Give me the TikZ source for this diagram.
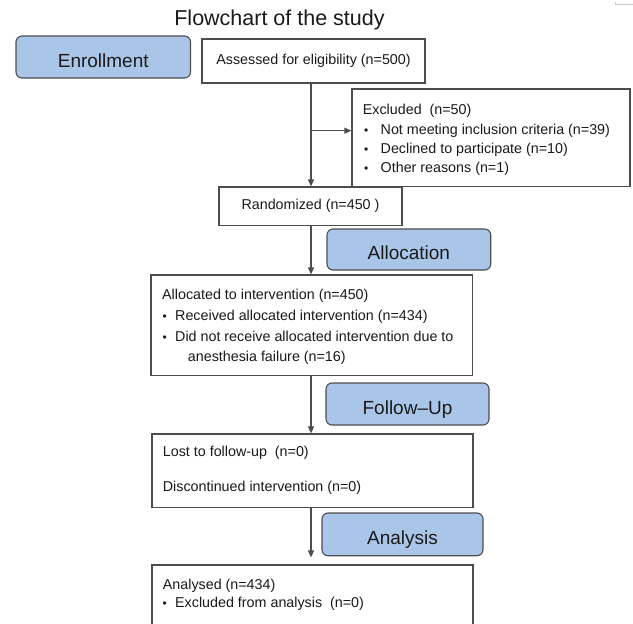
\documentclass[tikz,border=0pt]{standalone}
\usepackage{fontspec}
\setmainfont{Liberation Sans}
\usetikzlibrary{arrows.meta}
\definecolor{phasefill}{HTML}{A9C6E9}
\definecolor{edgegray}{HTML}{4D4D4D}
\definecolor{txt}{HTML}{1A1A1A}
\tikzset{
  phase/.style={draw=edgegray, line width=1.1pt, fill=phasefill, rounded corners=6pt, inner sep=0pt,
    text=txt, font=\fontsize{19}{22}\selectfont, text height=20.5pt, text depth=0pt},
  whitebox/.style={draw=edgegray, line width=1.2pt, fill=white, inner sep=0pt, text=txt,
    font=\fontsize{14.3}{17}\selectfont},
  line/.style={anchor=base west, inner sep=0pt, text=txt, font=\fontsize{14.3}{17}\selectfont},
  flow/.style={draw=edgegray, line width=1.2pt, -{Triangle[length=7pt,width=6pt]}},
}
\newcommand{\bul}[1]{\makebox[#1][l]{\fontsize{12}{12}\selectfont •}}
\begin{document}
\begin{tikzpicture}[x=1pt,y=-1pt]
\clip (0,0) rectangle (633,624);
\fill[white] (0,0) rectangle (633,624);
% faint mark top right
\draw[black!20, line width=0.8pt] (615,2) -- (615,4.3) -- (633,4.3);

\node[anchor=base, inner sep=0pt, text=txt, font=\fontsize{21.5}{25}\selectfont] (title) at (279.5,25.5) {Flowchart of the study};

\node[phase, minimum width=174.5pt, minimum height=42pt] (enroll) at (103.25,57) {Enrollment};
\node[whitebox, minimum width=223pt, minimum height=44pt] (assess) at (313.5,61) {Assessed for eligibility (n=500)};

\node[whitebox, minimum width=278pt, minimum height=97.5pt] (excl) at (491,137.75) {};
\node[line] (ex0) at (362.7,114.5) {Excluded\ \ (n=50)};
\node[line] (ex1) at (364,134.5) {\bul{16.5pt}Not meeting inclusion criteria (n=39)};
\node[line] (ex2) at (364,153.5) {\bul{16.5pt}Declined to participate (n=10)};
\node[line] (ex3) at (364,172.5) {\bul{16.5pt}Other reasons (n=1)};

\node[whitebox, minimum width=183pt, minimum height=38.5pt] (rand) at (310.5,206.25) {Randomized (n=450 )};

\node[phase, minimum width=163.7pt, minimum height=41pt] (allocp) at (408.85,249.5) {Allocation};

\node[whitebox, minimum width=321.7pt, minimum height=100.5pt] (alloc) at (311.85,325.25) {};
\node[line] (al0) at (162,299.5) {Allocated to intervention (n=450)};
\node[line] (al1) at (162.5,320.5) {\bul{12.5pt}Received allocated intervention (n=434)};
\node[line] (al2) at (162.5,341.2) {\bul{12.5pt}Did not receive allocated intervention due to};
\node[line] (al3) at (187.7,361.2) {anesthesia failure (n=16)};

\node[phase, minimum width=163pt, minimum height=42pt] (follow) at (407.5,404) {Follow–Up};

\node[whitebox, minimum width=321pt, minimum height=73.5pt] (lost) at (312.5,470.75) {};
\node[line] (lo0) at (162.7,456.2) {Lost to follow-up\ \ (n=0)};
\node[line] (lo1) at (162.7,491.2) {Discontinued intervention (n=0)};

\node[phase, minimum width=161pt, minimum height=42.7pt] (analp) at (402.5,534.35) {Analysis};

\node[whitebox, minimum width=321pt, minimum height=80pt] (anal) at (312.5,605) {};
\node[line] (an0) at (162.7,589.5) {Analysed (n=434)};
\node[line] (an1) at (162.5,607.2) {\bul{12.5pt}Excluded from analysis\ \ (n=0)};

% connectors
\coordinate (col) at (311,0);
\coordinate (br) at (311,130.7);
\draw[flow] (assess.south -| col) -- (rand.north -| col);
\draw[flow] (br) -- (br -| excl.west);
\draw[flow] (rand.south -| col) -- (alloc.north -| col);
\draw[flow] (alloc.south -| col) -- (lost.north -| col);
\draw[flow, shorten >=7pt] (lost.south -| col) -- (anal.north -| col);
\end{tikzpicture}
\end{document}
